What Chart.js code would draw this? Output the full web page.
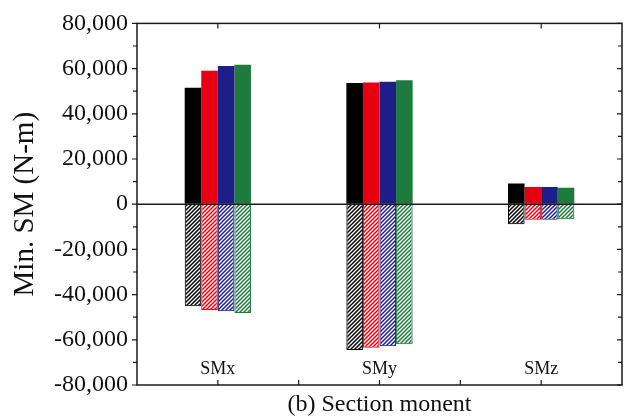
<!DOCTYPE html>
<html>
<head>
<meta charset="utf-8">
<script src="https://cdn.jsdelivr.net/npm/chart.js@4/dist/chart.umd.min.js"></script>
<style>
html,body{margin:0;padding:0;background:#fff;}
canvas{display:block;}
</style>
</head>
<body>
<canvas id="c" width="626" height="420"></canvas>
<script>
// ---- data ----
const categories = ['SMx', 'SMy', 'SMz'];
const seriesNames = ['Case 1', 'Case 2', 'Case 3', 'Case 4'];
const seriesColors = ['#000000', '#e60012', '#1e1e88', '#1e7b3e'];
const case1Max = [51500, 53600, 9200];
const case2Max = [59100, 53900, 7600];
const case3Max = [61100, 54200, 7600];
const case4Max = [61700, 54900, 7300];
const case1Min = [-45100, -64500, -8900];
const case2Min = [-46800, -63500, -6900];
const case3Min = [-47400, -62900, -6900];
const case4Min = [-48100, -62000, -6700];
const yTicks = [-80000, -60000, -40000, -20000, 0, 20000, 40000, 60000, 80000];
const xTitle = '(b) Section monent';
const yTitle = 'Min. SM (N-m)';

const maxSeries = [case1Max, case2Max, case3Max, case4Max];
const minSeries = [case1Min, case2Min, case3Min, case4Min];

function hatch(color) {
  const s = 4;
  const c = document.createElement('canvas');
  c.width = s; c.height = s;
  const g = c.getContext('2d');
  g.strokeStyle = color;
  g.lineWidth = 1.5;
  g.beginPath();
  g.moveTo(0, s); g.lineTo(s, 0);
  g.moveTo(-1, 1); g.lineTo(1, -1);
  g.moveTo(s - 1, s + 1); g.lineTo(s + 1, s - 1);
  g.stroke();
  return g.createPattern(c, 'repeat');
}

const datasets = [];
seriesNames.forEach((name, i) => {
  datasets.push({
    label: name + ' max',
    data: maxSeries[i],
    backgroundColor: seriesColors[i],
    borderWidth: 0,
    stack: 's' + i
  });
  datasets.push({
    label: name + ' min',
    data: minSeries[i],
    backgroundColor: hatch(seriesColors[i]),
    borderColor: seriesColors[i],
    borderWidth: 1,
    stack: 's' + i
  });
});

const serif = "'Liberation Serif', 'Times New Roman', serif";

const framePlugin = {
  id: 'frame',
  afterDatasetsDraw(chart) {
    const {ctx, chartArea: a, scales: {x, y}} = chart;
    ctx.save();
    ctx.strokeStyle = '#1a1a1a';
    ctx.lineWidth = 1.5;
    const y0 = y.getPixelForValue(0);
    ctx.beginPath();
    ctx.moveTo(a.left, y0); ctx.lineTo(a.right, y0);
    ctx.stroke();
    ctx.strokeRect(a.left, a.top, a.right - a.left, a.bottom - a.top);
    ctx.lineWidth = 1.2;
    ctx.beginPath();
    for (let v = y.min; v <= y.max; v += 10000) {
      const py = y.getPixelForValue(v);
      const len = (v % 20000 === 0) ? 5 : 4;
      ctx.moveTo(a.left - len, py); ctx.lineTo(a.left, py);
      ctx.moveTo(a.right, py); ctx.lineTo(a.right - len, py);
    }
    const n = categories.length;
    for (let i = 0; i < n; i++) {
      const px = x.getPixelForValue(i);
      ctx.moveTo(px, a.bottom); ctx.lineTo(px, a.bottom - 5);
      ctx.moveTo(px, a.top); ctx.lineTo(px, a.top + 5);
    }
    for (let i = 1; i < n; i++) {
      const px = (x.getPixelForValue(i - 1) + x.getPixelForValue(i)) / 2;
      ctx.moveTo(px, a.bottom); ctx.lineTo(px, a.bottom - 5);
    }
    ctx.stroke();
    // category labels inside plot
    ctx.fillStyle = '#111';
    ctx.font = '18px ' + serif;
    ctx.textAlign = 'center';
    ctx.textBaseline = 'middle';
    const ly = y.getPixelForValue(-73000);
    categories.forEach((c, i) => ctx.fillText(c, x.getPixelForValue(i), ly));
    ctx.restore();
  }
};

new Chart(document.getElementById('c'), {
  type: 'bar',
  data: { labels: categories, datasets },
  plugins: [framePlugin],
  options: {
    responsive: false,
    animation: false,
    layout: { padding: { top: 20, right: 4, left: 0, bottom: 0 } },
    datasets: { bar: { categoryPercentage: 0.41, barPercentage: 1.0 } },
    plugins: { legend: { display: false }, tooltip: { enabled: false } },
    scales: {
      x: {
        type: 'category',
        grid: { display: false },
        border: { display: false },
        ticks: { display: false },
        title: {
          display: true, text: xTitle, color: '#111',
          font: { family: serif, size: 24, lineHeight: 1.2 },
          padding: { top: 0, bottom: 1 }
        },
        afterFit(s) { s.height = 35; }
      },
      y: {
        stacked: true,
        min: -80000, max: 80000,
        afterBuildTicks(s) { s.ticks = yTicks.map(v => ({ value: v })); },
        grid: { drawOnChartArea: false, drawTicks: false, color: 'transparent' },
        border: { display: false },
        ticks: {
          padding: 9, color: '#111',
          font: { family: serif, size: 24 },
          callback: v => Number(v).toLocaleString('en-US')
        },
        title: {
          display: true, text: yTitle, color: '#111',
          font: { family: serif, size: 29, lineHeight: 1.2 },
          padding: { top: 8, bottom: 0 }
        },
        afterFit(s) { s.width = 137; }
      }
    }
  }
});
</script>
</body>
</html>
